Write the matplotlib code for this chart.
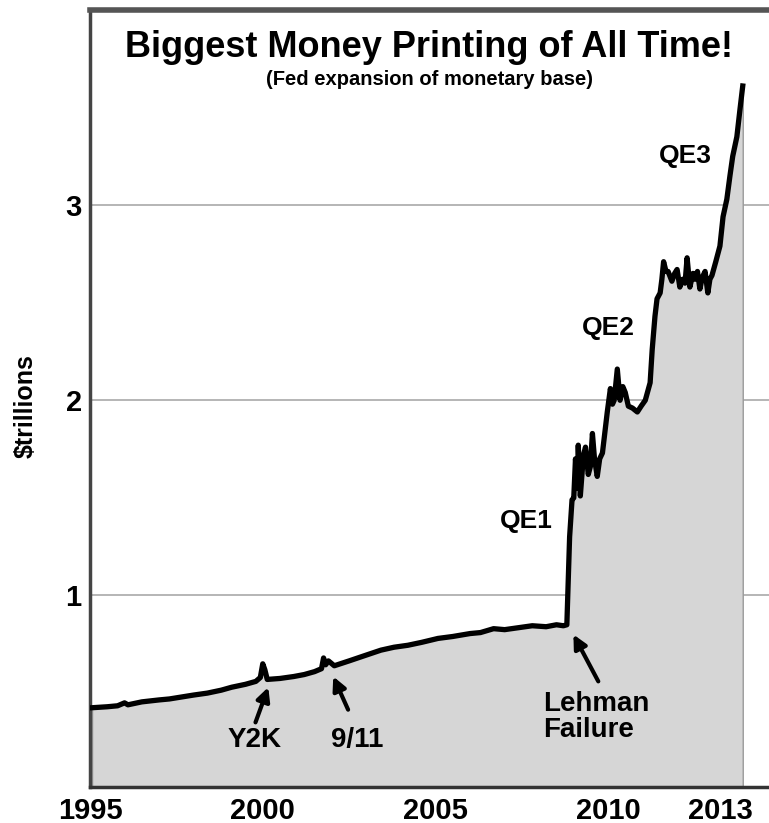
import matplotlib
matplotlib.use("Agg")
import matplotlib.pyplot as plt

plt.rcParams['font.family'] = ['Liberation Sans', 'DejaVu Sans']
plt.rcParams['font.weight'] = 'bold'
plt.rcParams['axes.labelweight'] = 'bold'

# monetary base, $ trillions
years = [1995.06, 1995.5, 1995.8, 1996.0, 1996.1, 1996.5, 1997.0, 1997.3, 1997.65,
         1998.0, 1998.4, 1998.8, 1999.1, 1999.5, 1999.8, 1999.93, 2000.0, 2000.06,
         2000.13, 2000.5, 2000.9, 2001.2, 2001.5, 2001.7, 2001.76, 2001.82, 2001.9,
         2002.07, 2002.5, 2003.0, 2003.42, 2003.8, 2004.2, 2004.6, 2005.07, 2005.5,
         2006.0, 2006.3, 2006.68, 2007.0, 2007.4, 2007.8, 2008.2, 2008.5, 2008.7,
         2008.8, 2008.88, 2008.95, 2009.0, 2009.05, 2009.1, 2009.13, 2009.19, 2009.28,
         2009.34, 2009.42, 2009.48, 2009.54, 2009.6, 2009.68, 2009.75, 2009.83,
         2009.97, 2010.06, 2010.12, 2010.17, 2010.26, 2010.34, 2010.42, 2010.49,
         2010.58, 2010.7, 2010.84, 2010.95, 2011.07, 2011.21, 2011.27, 2011.35,
         2011.41, 2011.5, 2011.55, 2011.6, 2011.67, 2011.73, 2011.84, 2011.92,
         2011.99, 2012.07, 2012.15, 2012.22, 2012.28, 2012.36, 2012.45, 2012.51,
         2012.58, 2012.65, 2012.72, 2012.8, 2012.88, 2012.94, 2013.0, 2013.11,
         2013.23, 2013.32, 2013.43, 2013.52, 2013.6, 2013.72, 2013.81, 2013.89]
base = [0.425, 0.43, 0.435, 0.45, 0.44, 0.455, 0.465, 0.47, 0.48,
        0.49, 0.50, 0.515, 0.53, 0.545, 0.56, 0.58, 0.65, 0.62,
        0.57, 0.575, 0.585, 0.595, 0.61, 0.625, 0.68, 0.645, 0.665,
        0.64, 0.665, 0.695, 0.72, 0.735, 0.745, 0.76, 0.78, 0.79,
        0.805, 0.81, 0.83, 0.825, 0.835, 0.845, 0.84, 0.85, 0.845,
        0.85, 1.30, 1.49, 1.50, 1.70, 1.55, 1.77, 1.51, 1.72,
        1.76, 1.62, 1.66, 1.83, 1.70, 1.61, 1.70, 1.73,
        1.94, 2.06, 1.98, 2.00, 2.16, 2.00, 2.07, 2.04,
        1.97, 1.96, 1.94, 1.97, 2.00, 2.09, 2.26, 2.43,
        2.52, 2.55, 2.62, 2.71, 2.66, 2.66, 2.61, 2.65,
        2.67, 2.58, 2.62, 2.60, 2.73, 2.58, 2.65, 2.62,
        2.66, 2.57, 2.63, 2.66, 2.55, 2.62, 2.64, 2.71,
        2.79, 2.94, 3.03, 3.15, 3.25, 3.35, 3.49, 3.61]

xtick_pos = [1995, 2000, 2005, 2010, 2013.25]
xtick_labels = ['1995', '2000', '2005', '2010', '2013']
ytick_pos = [1, 2, 3]

fig = plt.figure(figsize=(7.69, 8.23), dpi=100)
ax = fig.add_axes([0.117, 0.044, 0.883, 0.944])

ax.fill_between(years, 0, base, facecolor='#d6d6d6', edgecolor='#9a9a9a', lw=1, zorder=2)
ax.plot(years, base, color='black', lw=3.8, solid_joinstyle='round', zorder=3)

ax.set_xlim(1995.05, 2014.65)
ax.set_ylim(0.02, 4.0)
ax.set_xticks(xtick_pos, xtick_labels)
ax.set_yticks(ytick_pos, [str(v) for v in ytick_pos])
ax.tick_params(length=0, labelsize=21, pad=6)
ax.tick_params(axis='x', pad=7)
ax.grid(axis='y', color='#b0b0b0', lw=1.3, zorder=1)
ax.set_axisbelow(True)

ax.spines['right'].set_visible(False)
ax.spines['top'].set_color('#555555')
ax.spines['top'].set_linewidth(4)
ax.spines['left'].set_color('#444444')
ax.spines['left'].set_linewidth(2.5)
ax.spines['bottom'].set_color('#333333')
ax.spines['bottom'].set_linewidth(2.5)

ax.set_ylabel('\\$trillions', fontsize=18)
ax.yaxis.set_label_coords(-0.077, 0.49)

ax.text(0.5, 0.951, 'Biggest Money Printing of All Time!', transform=ax.transAxes,
        ha='center', va='center', fontsize=26)
ax.text(0.5, 0.911, '(Fed expansion of monetary base)', transform=ax.transAxes,
        ha='center', va='center', fontsize=14.5)

lbl = dict(fontsize=19, ha='center', va='center', zorder=5)
ax.text(2007.63, 1.38, 'QE1', **lbl)
ax.text(2010.0, 2.37, 'QE2', **lbl)
ax.text(2012.22, 3.25, 'QE3', **lbl)

low = dict(fontsize=20, ha='center', va='center', zorder=5)
arrow = dict(arrowstyle='-|>', color='black', lw=3, mutation_scale=20, shrinkA=0, shrinkB=0)
ax.text(1999.75, 0.26, 'Y2K', **low)
ax.annotate('', xy=(2000.16, 0.53), xytext=(1999.79, 0.35), arrowprops=arrow)
ax.text(2002.73, 0.26, '9/11', **low)
ax.annotate('', xy=(2002.04, 0.585), xytext=(2002.47, 0.415), arrowprops=arrow)
ax.text(2008.12, 0.38, 'Lehman\nFailure', fontsize=20, ha='left', va='center',
        linespacing=1.0, zorder=5)
ax.annotate('', xy=(2008.99, 0.80), xytext=(2009.71, 0.56), arrowprops=arrow)

fig.savefig('out.png', dpi=100)
